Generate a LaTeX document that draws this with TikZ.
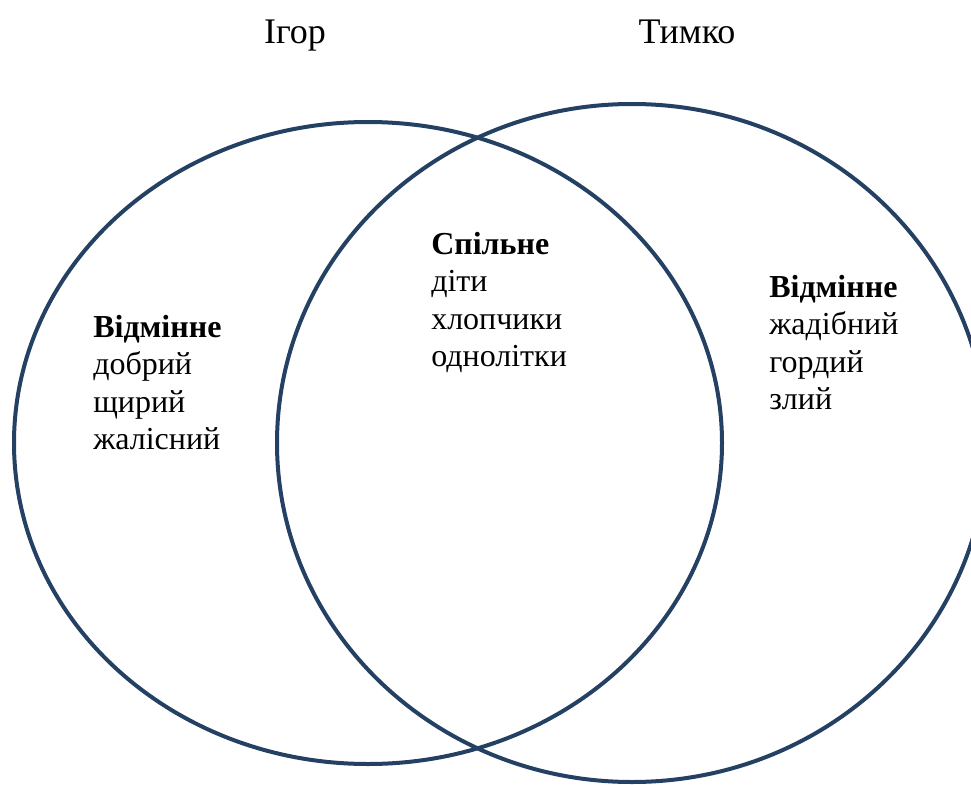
\documentclass[tikz,border=0pt]{standalone}
\usepackage{fontspec}
\setmainfont{Liberation Serif}
\usepackage{xcolor}
\definecolor{ringblue}{RGB}{36,64,98}
\tikzset{
  ring/.style={draw=ringblue, line width=3pt},
  title/.style={font=\fontsize{27}{32}\selectfont, inner sep=0pt},
  listtext/.style={font=\fontsize{24}{28}\selectfont, align=left, anchor=north west, inner sep=0pt}
}

\begin{document}
\begin{tikzpicture}[x=0.75pt, y=-0.75pt]
        \useasboundingbox (0,0) rectangle (971,785);
        \clip (0,0) rectangle (971,785);

        % Draw the two sets
        \coordinate (igorc) at (368,443);
        \coordinate (tymkoc) at (632,443);
        \draw[ring] (igorc) ellipse (354 and 321);
        \draw[ring] (tymkoc) ellipse (355 and 339);

        % Names
        \node[title, anchor=base] (igor) at (295,43) {Ігор};
        \node[title, anchor=base] (tymko) at (687,43) {Тимко};

        % Elements
        \node[listtext] (leftlist) at (93,315) {\textbf{Відмінне}\\добрий\\щирий\\жалісний};
        \node[listtext] (common) at (431,232) {\textbf{Спільне}\\діти\\хлопчики\\однолітки};
        \node[listtext] (rightlist) at (769,275) {\textbf{Відмінне}\\жадібний\\гордий\\злий};
    \end{tikzpicture}
\end{document}
